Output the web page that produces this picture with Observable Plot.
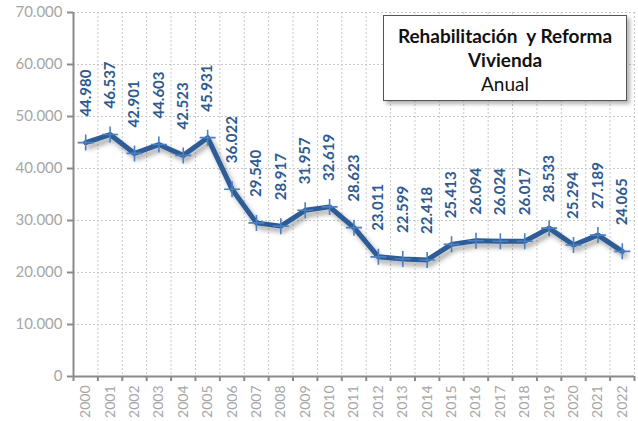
<!DOCTYPE html>
<html>
<head>
<meta charset="utf-8">
<script src="https://cdn.jsdelivr.net/npm/d3@7"></script>
<script src="https://cdn.jsdelivr.net/npm/@observablehq/plot@0.6"></script>
<style>
  html, body { margin: 0; padding: 0; background: #fff; }
  #wrap { position: relative; width: 638px; height: 421px; font-family: Lato, "Open Sans", sans-serif; }
  #titlebox {
    position: absolute; left: 383px; top: 15px; width: 242px; height: 84px;
    border: 1px solid #555; background: #fff; box-sizing: content-box;
    box-shadow: 3px 3px 4px rgba(0,0,0,0.3);
    text-align: center; color: #111; font-size: 19px; line-height: 24px;
    font-family: Lato, "Open Sans", sans-serif;
  }
  #titlebox .t { font-weight: bold; }
  #titlebox .line1 { margin-top: 8px; }
  #titlebox .line3 { margin-top: 0px; }
</style>
</head>
<body>
<div id="wrap">
  <div id="chart"></div>
  <div id="titlebox">
    <div class="t line1">Rehabilitación&nbsp; y Reforma</div>
    <div class="t">Vivienda</div>
    <div class="line3">Anual</div>
  </div>
</div>
<script>
const years = [2000,2001,2002,2003,2004,2005,2006,2007,2008,2009,2010,2011,2012,2013,2014,2015,2016,2017,2018,2019,2020,2021,2022];
const values = [44980,46537,42901,44603,42523,45931,36022,29540,28917,31957,32619,28623,23011,22599,22418,25413,26094,26024,26017,28533,25294,27189,24065];
const yTicks = [0,10000,20000,30000,40000,50000,60000,70000];

const data = years.map((y, i) => ({year: y, value: values[i]}));
const bounds = [years[0] - 0.5, ...years.map(y => y + 0.5)];
const fmt = d => d3.format(",")(d).replace(/,/g, ".");

const cross = {
  draw(context, size) {
    const r = Math.sqrt(size / Math.PI);
    context.moveTo(-r, 0); context.lineTo(r, 0);
    context.moveTo(0, -r); context.lineTo(0, r);
  }
};

const chart = Plot.plot({
  width: 638,
  height: 421,
  marginLeft: 73,
  marginRight: 4,
  marginTop: 12,
  marginBottom: 45,
  style: {fontFamily: "Lato, 'Open Sans', sans-serif", background: "#fff"},
  x: {type: "linear", domain: [years[0] - 0.5, years[years.length - 1] + 0.5]},
  y: {domain: [0, 70000]},
  marks: [
    Plot.gridY(yTicks, {stroke: "#c8c8c8", strokeOpacity: 1, strokeDasharray: "2,2"}),
    Plot.gridX(bounds.slice(1), {stroke: "#c8c8c8", strokeOpacity: 1, strokeDasharray: "2,2"}),
    Plot.axisY(yTicks, {tickFormat: fmt, tickSize: 6, tickPadding: 5, fontSize: 15, color: "#a6a6a6", stroke: "#8a8a8a", strokeWidth: 2, label: null}),
    Plot.axisX(bounds, {tickFormat: () => "", tickSize: 5, stroke: "#8a8a8a", strokeWidth: 2, label: null}),
    Plot.axisX(years, {tickFormat: d => String(d), tickSize: 0, tickPadding: 9, tickRotate: -90, fontSize: 14, color: "#a6a6a6", label: null}),
    Plot.ruleX([years[0] - 0.5], {stroke: "#8a8a8a", strokeWidth: 2}),
    Plot.ruleY([0], {stroke: "#8a8a8a", strokeWidth: 2}),
    Plot.line(data, {x: "year", y: "value", stroke: "#2e5c96", strokeWidth: 5, strokeLinejoin: "round", strokeLinecap: "round", className: "dataline"}),
    Plot.dot(data, {x: "year", y: "value", symbol: cross, r: 8, stroke: "#4a7fc1", strokeWidth: 1.6, fill: "none"}),
    Plot.text(data, {x: "year", y: "value", text: d => fmt(d.value), rotate: -90, textAnchor: "start", lineAnchor: "middle", dy: -26, fill: "#2e5a90", fontWeight: "bold", fontSize: 15})
  ]
});

document.getElementById("chart").appendChild(chart);

// soft drop shadow for the series line
const svg = d3.select(chart);
const defs = svg.insert("defs", ":first-child");
const f = defs.append("filter").attr("id", "lineShadow").attr("x", "-10%").attr("y", "-10%").attr("width", "130%").attr("height", "140%");
f.append("feDropShadow").attr("dx", 3).attr("dy", 4).attr("stdDeviation", 2.5).attr("flood-color", "#000").attr("flood-opacity", 0.35);
svg.selectAll(".dataline path").attr("filter", "url(#lineShadow)");
</script>
</body>
</html>
